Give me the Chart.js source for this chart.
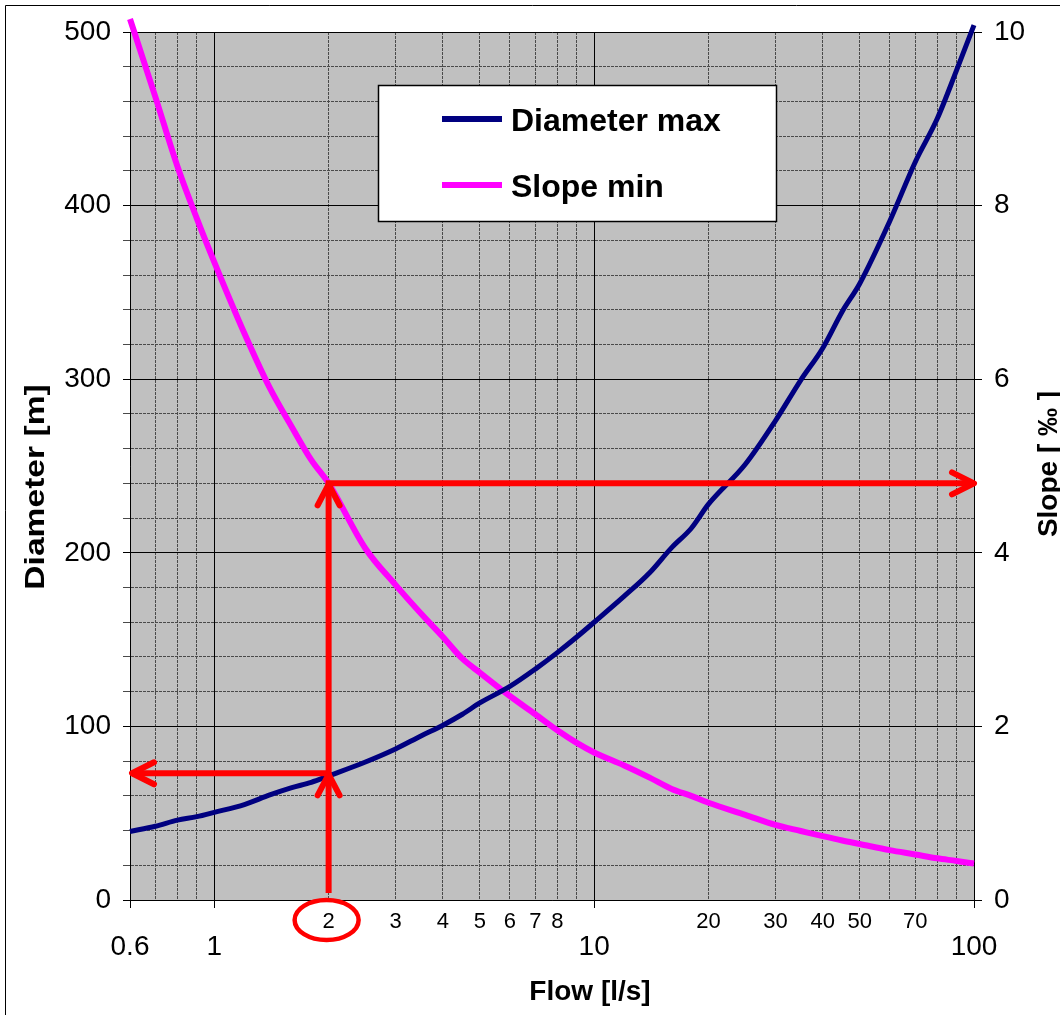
<!DOCTYPE html>
<html>
<head>
<meta charset="utf-8">
<script src="https://cdn.jsdelivr.net/npm/chart.js@4.4.0/dist/chart.umd.min.js"></script>
<style>
  html, body { margin: 0; padding: 0; background: #fff; }
  #wrap { width: 1060px; height: 1015px; }
</style>
</head>
<body>
<div id="wrap"><canvas id="chart" width="1060" height="1015"></canvas></div>
<script>
// values
const flows = [0.6, 0.7, 0.8, 0.9, 1, 1.2, 1.4, 1.6, 1.8, 2, 2.5, 3, 3.5, 4, 4.5, 5, 6, 7, 8, 9, 10, 12, 14, 16, 18, 20, 25, 30, 35, 40, 45, 50, 60, 70, 80, 90, 100];
const diameterMax = [39.5, 42.5, 46, 48, 50.5, 55, 60.5, 64.7, 67.8, 71.5, 79.5, 87, 94.5, 100.7, 107, 113.5, 123, 133, 142.5, 151.5, 160, 175, 188.5, 203, 214, 228, 251, 276, 299.5, 318, 339, 355, 391, 425, 450, 478, 504];
const slopeMin = [10.15, 9.25, 8.45, 7.85, 7.35, 6.53, 5.9, 5.45, 5.07, 4.8, 4.05, 3.63, 3.3, 3.03, 2.78, 2.62, 2.35, 2.14, 1.955, 1.81, 1.7, 1.55, 1.41, 1.28, 1.2, 1.12, 0.98, 0.865, 0.795, 0.735, 0.685, 0.645, 0.575, 0.525, 0.48, 0.45, 0.42];

const xTicks = [0.6, 0.7, 0.8, 0.9, 1, 2, 3, 4, 5, 6, 7, 8, 9, 10, 20, 30, 40, 50, 60, 70, 80, 90, 100];
const xMajorLabels = [0.6, 1, 10, 100];
const xMinorLabels = [2, 3, 4, 5, 6, 7, 8, 20, 30, 40, 50, 70];
const xMajorLines = [1, 10, 100];
const diameterTicks = [0, 20, 40, 60, 80, 100, 120, 140, 160, 180, 200, 220, 240, 260, 280, 300, 320, 340, 360, 380, 400, 420, 440, 460, 480, 500];
const slopeTicks = [0, 2, 4, 6, 8, 10];

// the red read-out drawn on the picture
const readFlow = 2;
const readDiameter = 73;
const readSlope = 4.8;

const FONT = '"Liberation Sans", Arial, sans-serif';
Chart.defaults.font.family = FONT;
Chart.defaults.color = '#000';

const has = (list, v) => list.some(t => Math.abs(t - v) < 1e-9);
const isHundred = v => Math.abs(v % 100) < 1e-9;

const plotBackground = {
  id: 'plotBackground',
  beforeDraw(chart) {
    const { ctx, chartArea: a } = chart;
    ctx.save();
    ctx.fillStyle = '#fff';
    ctx.fillRect(0, 0, chart.width, chart.height);
    ctx.strokeStyle = '#000';
    ctx.lineWidth = 1;
    ctx.beginPath();
    ctx.moveTo(5.5, chart.height);
    ctx.lineTo(5.5, 5.5);
    ctx.lineTo(chart.width, 5.5);
    ctx.stroke();
    ctx.fillStyle = '#c0c0c0';
    ctx.fillRect(a.left, a.top, a.right - a.left, a.bottom - a.top);
    ctx.restore();
  }
};

const boxLegend = {
  id: 'boxLegend',
  afterDatasetsDraw(chart) {
    const { ctx, chartArea: a } = chart;
    const left = a.left + 248, top = a.top + 53;
    ctx.save();
    ctx.fillStyle = '#fff';
    ctx.fillRect(left, top, 398, 136);
    ctx.strokeStyle = '#000';
    ctx.lineWidth = 1.5;
    ctx.strokeRect(left + 0.5, top + 0.5, 398, 136);
    ctx.font = 'bold 32px ' + FONT;
    ctx.textBaseline = 'alphabetic';
    chart.data.datasets.forEach((ds, i) => {
      const y = top + 34 + i * 66;
      ctx.strokeStyle = ds.borderColor;
      ctx.lineWidth = 6;
      ctx.beginPath();
      ctx.moveTo(left + 64, y);
      ctx.lineTo(left + 124, y);
      ctx.stroke();
      ctx.fillStyle = '#000';
      ctx.fillText(ds.label, left + 133, y + 12);
    });
    ctx.restore();
  }
};

const readout = {
  id: 'readout',
  afterDatasetsDraw(chart) {
    const { ctx, chartArea: a, scales } = chart;
    const x = scales.x.getPixelForValue(readFlow);
    const yD = scales.y.getPixelForValue(readDiameter);
    const yS = scales.y2.getPixelForValue(readSlope);
    const line = pts => {
      ctx.beginPath();
      ctx.moveTo(pts[0][0], pts[0][1]);
      pts.slice(1).forEach(p => ctx.lineTo(p[0], p[1]));
      ctx.stroke();
    };
    ctx.save();
    ctx.strokeStyle = '#ff0000';
    ctx.lineWidth = 6;
    ctx.lineJoin = 'round';
    ctx.lineCap = 'butt';
    line([[x, a.bottom - 7], [x, yS]]);
    line([[x - 3, yS], [a.right, yS]]);
    line([[x, yD], [a.left + 2, yD]]);
    ctx.lineCap = 'round';
    const h = 22, w = 11;
    line([[x - w, yD + h], [x, yD + 1], [x + w, yD + h]]);
    line([[x - w, yS + h], [x, yS + 1], [x + w, yS + h]]);
    line([[a.right - h, yS - w], [a.right, yS], [a.right - h, yS + w]]);
    line([[a.left + 2 + h, yD - w], [a.left + 2, yD], [a.left + 2 + h, yD + w]]);
    ctx.restore();
  },
  afterDraw(chart) {
    const { ctx, chartArea: a, scales } = chart;
    const x = scales.x.getPixelForValue(readFlow);
    ctx.save();
    ctx.strokeStyle = '#ff0000';
    ctx.lineWidth = 4.5;
    ctx.beginPath();
    ctx.ellipse(x - 2, a.bottom + 20, 32, 20, 0, 0, Math.PI * 2);
    ctx.stroke();
    ctx.restore();
  }
};

const axisTitles = {
  id: 'axisTitles',
  afterDraw(chart) {
    const { ctx } = chart;
    ctx.save();
    ctx.fillStyle = '#000';
    ctx.font = 'bold 28px ' + FONT;
    ctx.textAlign = 'center';
    ctx.textBaseline = 'alphabetic';
    ctx.fillText('Flow [l/s]', 590, 1000);
    const vertical = (text, x, y, stretch) => {
      ctx.save();
      ctx.translate(x, y);
      ctx.rotate(-Math.PI / 2);
      ctx.scale(stretch, 1);
      ctx.fillText(text, 0, 0);
      ctx.restore();
    };
    vertical('Diameter [m]', 44, 487, 1.2);
    vertical('Slope [ \u2030 ]', 1057, 464, 1);
    ctx.restore();
  }
};

const minorDash = ctx => (ctx.tick && ctx.tick.major) ? [] : [3, 1];

new Chart(document.getElementById('chart'), {
  type: 'line',
  data: {
    datasets: [
      {
        label: 'Diameter max',
        data: flows.map((f, i) => ({ x: f, y: diameterMax[i] })),
        yAxisID: 'y',
        borderColor: '#000080',
        borderWidth: 5,
        pointRadius: 0,
        cubicInterpolationMode: 'monotone',
        clip: false
      },
      {
        label: 'Slope min',
        data: flows.map((f, i) => ({ x: f, y: slopeMin[i] })),
        yAxisID: 'y2',
        borderColor: '#ff00ff',
        borderWidth: 6,
        pointRadius: 0,
        cubicInterpolationMode: 'monotone',
        clip: false
      }
    ]
  },
  options: {
    responsive: false,
    animation: false,
    events: [],
    layout: { padding: { top: 32, left: 0, right: 0, bottom: 0 } },
    plugins: {
      legend: { display: false },
      tooltip: { enabled: false }
    },
    scales: {
      x: {
        type: 'logarithmic',
        position: 'bottom',
        min: 0.6,
        max: 100,
        afterBuildTicks: s => { s.ticks = xTicks.map(v => ({ value: v, major: has(xMajorLines, v) })); },
        afterFit: s => { s.height = 115; },
        ticks: {
          autoSkip: false,
          maxRotation: 0,
          minRotation: 0,
          padding: 1,
          color: '#000',
          callback: v => {
            if (has(xMajorLabels, v)) return ['', String(v)];
            if (has(xMinorLabels, v)) return String(v);
            return '';
          },
          font: ctx => has(xMajorLabels, ctx.tick.value)
            ? { size: 28, lineHeight: 0.9 }
            : { size: 22, lineHeight: 1.2 }
        },
        grid: {
          color: ctx => has(xMajorLines, ctx.tick.value) ? '#000' : '#4a4a4a',
          tickColor: ctx => has(xMajorLabels, ctx.tick.value) ? '#000' : 'rgba(0,0,0,0)',
          lineWidth: 1,
          tickLength: 8
        },
        border: { color: '#000', width: 1, dash: minorDash }
      },
      y: {
        type: 'linear',
        position: 'left',
        min: 0,
        max: 500,
        afterBuildTicks: s => { s.ticks = diameterTicks.map(v => ({ value: v, major: isHundred(v) })); },
        afterFit: s => { s.width = 130; },
        ticks: {
          autoSkip: false,
          padding: 12,
          color: '#000',
          font: { size: 28 },
          callback: v => (isHundred(v) ? String(v) : '')
        },
        grid: {
          color: ctx => isHundred(ctx.tick.value) ? '#000' : '#4a4a4a',
          tickColor: ctx => isHundred(ctx.tick.value) ? '#000' : '#4a4a4a',
          lineWidth: 1,
          tickLength: 7
        },
        border: { color: '#000', width: 1, dash: minorDash }
      },
      y2: {
        type: 'linear',
        position: 'right',
        min: 0,
        max: 10,
        afterBuildTicks: s => { s.ticks = slopeTicks.map(v => ({ value: v })); },
        afterFit: s => { s.width = 86; },
        ticks: {
          autoSkip: false,
          padding: 12,
          color: '#000',
          font: { size: 28 },
          callback: v => String(v)
        },
        grid: {
          drawOnChartArea: false,
          color: '#000',
          tickLength: 8
        },
        border: { color: '#000', width: 1 }
      }
    }
  },
  plugins: [plotBackground, boxLegend, readout, axisTitles]
});
</script>
</body>
</html>
